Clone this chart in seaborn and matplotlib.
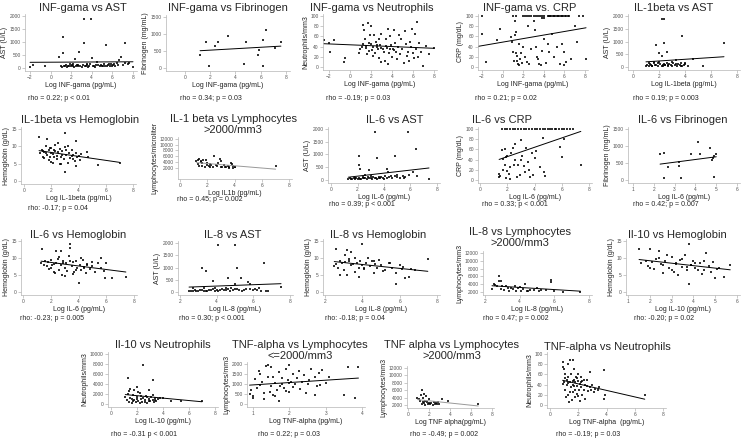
import pandas as pd
import seaborn as sns
import numpy as np
import matplotlib.pyplot as plt

sns.set_style('ticks')
plt.rcParams['font.family'] = ['Liberation Sans', 'DejaVu Sans']

W, H = 744, 442

# INF-gama vs AST
p1_x = [-2.0, -1.7, -0.5, 0.8, 1.0, 1.1, 1.2, 1.2, 1.3, 1.4,
        1.5, 1.6, 1.8, 1.9, 2.0, 2.1, 2.2, 2.3, 2.4, 2.5,
        2.6, 2.7, 2.8, 2.9, 3.0, 3.1, 3.2, 3.2, 3.3, 3.4,
        3.5, 3.6, 3.7, 3.8, 3.9, 4.0, 4.1, 4.2, 4.3, 4.5,
        4.6, 4.8, 5.0, 5.1, 5.2, 5.4, 5.5, 5.6, 5.8, 5.9,
        6.0, 6.1, 6.2, 6.3, 6.4, 6.6, 6.8, 7.0, 7.2, 7.2,
        7.5, 8.0, 1.7, 2.2, 2.7, 3.5, 4.4, 4.9, 5.3, 5.7,
        6.5, 7.6]
p1_y = [30, 120, 60, 430, 80, 50, 1200, 560, 90, 60,
        120, 40, 70, 150, 60, 100, 80, 40, 350, 60,
        110, 70, 600, 90, 50, 130, 1900, 950, 60, 80,
        100, 40, 70, 150, 1900, 380, 60, 90, 50, 230,
        100, 70, 60, 90, 140, 870, 60, 110, 80, 160,
        60, 100, 140, 60, 200, 320, 430, 100, 960, 200,
        150, 50, 90, 140, 120, 160, 110, 130, 70, 150,
        120, 180]

# INF-gama vs Fibrinogen
p2_x = [1.2, 1.7, 1.9, 2.4, 2.6, 3.4, 4.7, 4.8, 5.8, 5.9, 6.2, 6.2, 6.4, 7.1, 7.6]
p2_y = [390, 760, 60, 640, 770, 930, 120, 760, 370, 540, 810, 70, 1110, 580, 770]

# INF-gama vs Neutrophils
p3_x = [-2.5, -2.0, -1.9, -1.5, -0.6, -0.5, 0.9, 1.0, 1.1, 1.2,
        1.3, 1.4, 1.5, 1.6, 1.7, 1.8, 2.0, 2.0, 2.1, 2.2,
        2.3, 2.4, 2.5, 2.6, 2.7, 2.8, 2.9, 3.0, 3.0, 3.1,
        3.2, 3.3, 3.4, 3.5, 3.6, 3.7, 3.8, 3.9, 4.0, 4.1,
        4.2, 4.3, 4.4, 4.5, 4.6, 4.7, 4.8, 4.9, 5.0, 5.1,
        5.2, 5.3, 5.4, 5.5, 5.6, 5.7, 5.8, 5.9, 6.0, 6.1,
        6.2, 6.3, 6.4, 6.5, 6.6, 6.8, 7.0, 7.2, 7.5, 8.0,
        1.2, 1.5, 1.8, 2.2, 2.6, 3.0, 3.4, 3.8, 4.2, 2.8,
        1.9, 3.6]
p3_y = [52, 47, 30, 52, 10, 17, 28, 35, 40, 82,
        72, 55, 38, 25, 87, 32, 45, 80, 34, 22,
        62, 28, 50, 40, 35, 18, 44, 10, 65, 36,
        30, 12, 55, 38, 5, 27, 60, 44, 20, 35,
        72, 48, 30, 15, 40, 63, 25, 55, 35, 8,
        70, 45, 22, 30, 12, 50, 40, 75, 28, 18,
        65, 35, 88, 20, 48, 30, 2, 42, 25, 38,
        45, 42, 48, 40, 44, 38, 42, 36, 33, 55,
        62, 75]

# INF-gama vs CRP
p4_x = [-2.5, -2.0, -2.0, -1.6, -0.5, -0.3, 0.8, 0.9, 1.0, 1.2,
        1.3, 1.2, 1.3, 1.4, 1.5, 1.6, 1.7, 1.8, 2.0, 2.2,
        2.4, 2.5, 2.6, 2.8, 3.0, 3.1, 3.2, 3.3, 3.4, 3.5,
        3.7, 3.8, 4.0, 4.2, 4.4, 4.5, 4.8, 5.0, 5.3, 5.6,
        5.8, 6.0, 6.2, 6.6, 7.0, 7.2, 8.1, 6.0, 1.0, 1.3,
        2.0, 2.2, 2.4, 2.6, 2.8, 3.0, 3.2, 3.4, 3.6, 3.8,
        4.0, 4.5, 4.7, 4.9, 5.1, 5.3, 5.5, 5.7, 5.9, 6.1,
        6.3, 7.4, 7.8, 3.8, 4.0, 4.4, 4.6, 5.0, 5.4, 5.8,
        6.2, 6.4, 1.1, 1.6, 1.9, 1.4]
p4_y = [8, 100, 65, 9, 52, 74, 58, 50, 30, 62,
        68, 90, 28, 12, 5, 46, 15, 28, 40, 20,
        10, 80, 5, 35, 90, 72, 40, 20, 15, 5,
        3, 32, 55, 8, 45, 30, 65, 20, 40, 5,
        45, 30, 10, 15, 80, 50, 16, 3, 100, 100,
        100, 100, 100, 100, 100, 100, 100, 100, 100, 100,
        100, 100, 100, 100, 100, 100, 100, 100, 100, 100,
        100, 100, 100, 96, 97, 100, 100, 100, 100, 100,
        100, 100, 12, 3, 8, 22]

# IL-1beta vs AST
p5_x = [2.2, 2.4, 3.8, 2.4, 7.0, 1.8, 2.0, 2.2, 2.6, 3.3,
        4.6, 1.6, 5.4, 3.0, 4.0, 1.0, 1.1, 1.2, 1.3, 1.4,
        1.5, 1.6, 1.7, 1.8, 1.9, 2.0, 2.1, 2.2, 2.3, 2.4,
        2.5, 2.6, 2.7, 2.8, 2.9, 3.0, 3.1, 3.2, 3.4, 3.5,
        3.6, 3.7, 3.8, 3.9, 4.0, 4.2, 1.5, 1.9, 2.3, 2.7,
        3.3, 3.7, 1.2, 2.5]
p5_y = [1900, 1900, 1200, 960, 960, 870, 560, 430, 580, 260,
        300, 200, 40, 200, 150, 60, 80, 40, 120, 90,
        50, 140, 70, 100, 60, 180, 110, 50, 90, 130,
        70, 160, 40, 120, 80, 60, 150, 90, 50, 110,
        70, 140, 60, 100, 120, 50, 30, 160, 60, 90,
        130, 40, 150, 100]

# IL-1beta vs Hemoglobin
p6_x = [1.1, 1.7, 3.0, 3.0, 5.4, 7.0, 3.8, 4.6, 3.8, 2.5,
        4.7, 1.2, 1.3, 1.4, 1.5, 1.5, 1.6, 1.7, 1.8, 1.8,
        1.9, 2.0, 2.0, 2.1, 2.2, 2.2, 2.3, 2.4, 2.5, 2.6,
        2.6, 2.7, 2.8, 2.9, 3.0, 3.1, 3.2, 3.3, 3.4, 3.5,
        3.6, 3.7, 3.8, 3.9, 4.0, 4.1, 4.2, 1.6, 2.0, 2.4,
        2.8, 3.2, 3.6, 1.9, 2.3, 2.7, 3.1, 3.5, 1.4, 2.1]
p6_y = [12.6, 12.2, 14.0, 2.5, 4.5, 5.3, 11.5, 8.5, 4.4, 11.0,
        7.0, 8.0, 9.0, 7.0, 8.5, 6.5, 10.0, 7.5, 8.8, 6.0,
        9.5, 8.0, 5.5, 7.8, 9.0, 6.8, 10.5, 7.2, 8.4, 5.0,
        9.2, 7.0, 8.6, 6.2, 9.8, 7.4, 5.2, 8.2, 6.6, 9.0,
        7.6, 5.8, 8.0, 6.8, 7.2, 6.0, 7.8, 8.2, 9.4, 6.4,
        7.6, 10.2, 6.2, 7.0, 8.6, 4.8, 9.0, 7.2, 8.6, 5.2]

# IL-1 beta vs Lymphocytes >2000
p7_x = [1.2, 1.4, 1.4, 1.5, 1.6, 1.7, 1.9, 2.0, 2.1, 2.2,
        2.2, 2.4, 2.5, 2.6, 2.7, 2.8, 2.9, 3.0, 3.0, 3.1,
        3.2, 3.4, 3.6, 3.7, 3.8, 3.9, 4.0, 7.0, 1.3, 2.3,
        3.3, 1.8, 2.0, 3.5, 1.3, 1.5, 1.6, 3.6, 3.9, 4.0]
p7_y = [4200, 5000, 2700, 3900, 2500, 4800, 4500, 3500, 2600, 3200,
        2200, 2300, 6200, 3000, 2400, 3700, 5000, 4400, 2200, 2100,
        2800, 2300, 2200, 3700, 3200, 2500, 2100, 2400, 3300, 2900,
        2100, 2100, 2800, 2600, 4600, 4300, 3600, 2000, 2000, 2300]

# IL-6 vs AST
p8_x = [3.3, 5.8, 6.4, 2.1, 4.8, 3.5, 2.1, 2.2, 2.9, 4.2,
        4.3, 6.2, 5.0, 7.4, 6.5, 2.6, 1.3, 1.4, 1.5, 1.6,
        1.7, 1.8, 1.9, 2.0, 2.1, 2.2, 2.3, 2.4, 2.5, 2.6,
        2.7, 2.8, 2.9, 3.0, 3.1, 3.2, 3.3, 3.4, 3.5, 3.6,
        3.7, 3.8, 3.9, 4.0, 4.1, 4.2, 4.4, 4.6, 4.8, 5.0,
        5.2, 5.4, 5.6, 5.9, 1.8, 2.4, 3.0, 3.6, 4.5, 5.5]
p8_y = [1900, 1900, 1200, 960, 960, 870, 600, 430, 400, 430,
        330, 320, 200, 50, 150, 180, 40, 60, 30, 50,
        70, 40, 60, 30, 80, 50, 40, 90, 60, 70,
        40, 110, 60, 80, 50, 120, 70, 90, 40, 100,
        60, 130, 80, 50, 140, 90, 110, 70, 160, 120,
        80, 150, 100, 180, 80, 100, 140, 60, 170, 90]

# IL-6 vs CRP
p9_x = [1.4, 1.4, 1.6, 1.7, 1.8, 1.9, 2.0, 2.0, 2.1, 2.2,
        2.3, 2.4, 2.5, 2.6, 2.7, 2.8, 2.9, 3.0, 3.0, 3.1,
        3.2, 3.3, 3.4, 3.5, 3.6, 3.8, 3.9, 4.0, 4.1, 4.4,
        4.6, 4.7, 4.8, 5.9, 6.0, 6.2, 7.4, 2.2, 2.6, 1.8,
        3.7, 1.6, 1.8, 2.0, 2.2, 2.4, 2.6, 2.8, 3.0, 3.2,
        3.4, 3.6, 3.8, 4.0, 4.2, 4.4, 4.6, 4.8, 5.0, 5.3,
        5.6, 6.0, 6.4, 6.8, 5.1, 5.5, 5.8, 6.2, 6.6, 1.5,
        1.7, 1.9]
p9_y = [12, 5, 58, 42, 60, 45, 48, 18, 12, 25,
        52, 62, 30, 70, 5, 30, 10, 78, 40, 48,
        28, 15, 62, 35, 20, 52, 10, 43, 57, 25,
        82, 15, 8, 65, 45, 80, 30, 2, 40, 30,
        5, 100, 100, 100, 100, 100, 100, 100, 100, 100,
        100, 100, 100, 100, 100, 100, 100, 100, 100, 100,
        100, 100, 100, 100, 100, 100, 100, 100, 100, 8,
        20, 3]

# IL-6 vs Fibrinogen
p10_x = [2.3, 2.5, 2.5, 2.7, 3.2, 3.2, 3.3, 3.8, 4.1, 4.2, 4.7, 4.8, 4.85, 4.9, 4.9, 5.0]
p10_y = [760, 800, 70, 380, 540, 400, 60, 770, 1110, 760, 930, 600, 650, 100, 700, 770]

# IL-6 vs Hemoglobin
p11_x = [1.4, 2.4, 2.7, 3.4, 3.4, 4.0, 6.4, 7.4, 5.6, 5.9,
         6.0, 1.3, 1.5, 1.6, 1.7, 1.8, 1.9, 2.0, 2.1, 2.2,
         2.3, 2.4, 2.5, 2.6, 2.7, 2.8, 2.9, 3.0, 3.1, 3.2,
         3.3, 3.5, 3.6, 3.7, 3.8, 3.9, 4.1, 4.2, 4.3, 4.4,
         4.5, 4.6, 4.8, 5.0, 5.2, 5.4, 5.6, 5.8, 2.0, 2.6,
         3.0, 3.4, 3.8, 4.2, 4.6, 5.0, 2.2, 2.9, 3.6, 4.4]
p11_y = [12.7, 12.0, 12.0, 14.0, 13.0, 2.5, 4.0, 4.5, 10.0, 4.2,
         8.5, 8.6, 8.0, 9.2, 7.5, 8.8, 6.8, 9.5, 7.8, 8.2,
         5.5, 8.6, 9.8, 6.5, 8.0, 5.0, 9.0, 7.2, 8.4, 6.2,
         10.5, 7.6, 8.8, 5.8, 9.2, 7.0, 8.0, 6.4, 9.4, 7.2,
         5.6, 8.2, 6.8, 7.6, 5.8, 8.6, 7.0, 6.2, 7.0, 10.2,
         4.8, 9.0, 6.6, 10.0, 7.8, 8.8, 6.0, 8.4, 5.4, 7.4]

# IL-8 vs AST
p12_x = [3.2, 3.4, 4.1, 5.0, 5.1, 6.6, 3.8, 4.6, 5.3, 5.0,
         5.7, 5.8, 6.3, 7.5, 6.8, 2.5, 2.6, 2.7, 2.8, 2.9,
         3.0, 3.1, 3.2, 3.3, 3.4, 3.5, 3.6, 3.7, 3.8, 3.9,
         4.0, 4.1, 4.2, 4.3, 4.4, 4.5, 4.6, 4.7, 4.8, 4.9,
         5.0, 5.2, 5.4, 5.6, 5.8, 6.0, 6.2, 6.4, 6.7, 2.7,
         3.3, 3.9, 4.5, 5.1, 5.5, 6.1]
p12_y = [960, 870, 1900, 1900, 960, 1200, 430, 560, 580, 320,
         400, 330, 180, 190, 50, 40, 60, 30, 80, 50,
         40, 70, 100, 50, 60, 40, 90, 70, 120, 50,
         80, 60, 100, 140, 70, 90, 110, 60, 150, 80,
         120, 90, 60, 110, 130, 70, 90, 50, 60, 170,
         150, 160, 180, 130, 100, 120]

# IL-8 vs Hemoglobin
p13_x = [2.6, 3.2, 3.4, 4.0, 3.1, 5.8, 6.3, 6.5, 7.5, 4.3,
         3.8, 2.5, 2.6, 2.7, 2.8, 2.9, 3.0, 3.1, 3.2, 3.3,
         3.4, 3.5, 3.6, 3.7, 3.8, 3.9, 4.0, 4.1, 4.2, 4.4,
         4.5, 4.6, 4.7, 4.8, 4.9, 5.0, 5.2, 5.4, 5.6, 5.8,
         6.0, 6.2, 6.6, 6.8, 2.8, 3.3, 3.6, 4.1, 4.6, 5.1,
         5.5, 6.1]
p13_y = [12.7, 12.5, 11.8, 14.0, 11.0, 2.4, 4.2, 4.5, 9.6, 10.0,
         4.5, 7.5, 8.2, 7.0, 9.0, 8.4, 6.5, 8.8, 5.0, 9.6,
         7.8, 8.2, 6.0, 8.6, 7.2, 9.2, 8.0, 6.8, 8.4, 7.6,
         9.0, 5.6, 8.2, 7.0, 9.4, 7.8, 6.4, 8.6, 7.2, 5.5,
         8.0, 7.4, 6.8, 6.6, 5.0, 9.0, 10.0, 7.0, 9.2, 6.2,
         8.4, 6.8]

# IL-8 vs Lymphocytes >2000
p14_x = [2.4, 2.5, 2.6, 2.7, 2.8, 2.8, 2.9, 2.9, 3.0, 3.1,
         3.2, 3.3, 3.4, 3.5, 3.6, 3.7, 3.8, 4.0, 4.2, 4.3,
         4.4, 4.5, 4.6, 4.8, 5.0, 5.1, 5.2, 5.8, 5.8, 6.0,
         6.5, 7.5, 4.1, 3.9, 5.5]
p14_y = [2800, 4000, 3700, 3500, 6200, 4800, 4700, 2700, 3500, 2400,
         3600, 2900, 2300, 3100, 2800, 3500, 2300, 3300, 2800, 4100,
         2300, 2200, 2600, 2400, 3000, 2200, 2400, 5000, 4500, 2300,
         2100, 2100, 2200, 2900, 2600]

# Il-10 vs Hemoglobin
p15_x = [1.5, 2.0, 2.4, 2.8, 3.8, 3.8, 4.6, 5.0, 5.4, 5.7,
         1.6, 1.8, 1.9, 2.1, 2.2, 2.3, 2.5, 2.6, 2.7, 2.9,
         3.0, 3.1, 3.2, 3.3, 3.4, 3.5, 3.6, 3.7, 3.9, 4.0,
         4.1, 4.2, 4.3, 4.4, 4.5, 4.7, 4.8, 4.9, 5.1, 5.2,
         2.0, 2.6, 3.0, 3.5, 3.9, 4.1, 4.5, 3.7, 3.2, 2.4]
p15_y = [12.7, 12.6, 12.0, 11.0, 14.0, 2.4, 11.5, 4.2, 4.5, 8.0,
         8.4, 9.0, 7.6, 8.8, 6.8, 9.6, 8.2, 5.6, 9.2, 7.0,
         10.2, 6.0, 8.6, 5.0, 9.4, 7.4, 10.8, 6.4, 8.0, 9.0,
         7.2, 6.6, 8.4, 5.4, 9.2, 7.6, 5.8, 8.8, 6.8, 7.0,
         7.2, 8.0, 6.4, 9.8, 7.8, 8.6, 6.6, 7.4, 8.2, 10.0]

# Il-10 vs Neutrophils
p16_x = [2.5, 1.3, 3.2, 2.0, 1.5, 1.8, 2.9, 4.0, 5.4, 7.0,
         4.6, 1.1, 1.2, 1.3, 1.4, 1.5, 1.6, 1.7, 1.8, 1.9,
         2.0, 2.1, 2.2, 2.3, 2.4, 2.5, 2.6, 2.7, 2.8, 2.9,
         3.0, 3.1, 3.2, 3.3, 3.4, 3.5, 3.6, 3.8, 1.4, 1.7,
         2.0, 2.3, 2.6, 2.9, 3.2, 1.6, 2.2, 2.8, 3.4, 2.1]
p16_y = [7900, 5200, 4800, 3500, 3000, 2900, 2800, 1200, 600, 600,
         700, 1400, 800, 2000, 500, 1200, 300, 1800, 900, 400,
         1500, 700, 2200, 1000, 500, 1300, 800, 1700, 300, 1100,
         600, 1400, 900, 500, 1200, 700, 1000, 1300, 2600, 600,
         1000, 1600, 400, 700, 1800, 1100, 300, 1500, 900, 2400]

# TNF-alpha vs Lymphocytes <=2000
p17_x = [0.9, 0.95, 1.0, 1.0, 1.05, 1.1, 1.15, 1.2, 1.25, 1.3,
         1.35, 1.4, 1.4, 1.45, 1.5, 1.5, 1.55, 1.6, 1.6, 1.65,
         1.7, 1.7, 1.75, 1.8, 1.8, 1.85, 1.9, 1.95, 2.0, 2.0,
         2.05, 2.1, 2.1, 2.15, 2.2, 2.25, 2.3, 2.35, 2.4, 2.5,
         2.55, 2.6, 2.7, 2.7, 2.75, 2.8, 2.85, 2.9, 3.0, 3.1,
         3.5, 3.6, 3.8, 3.9, 1.3, 1.55, 2.0, 1.2, 1.9, 2.45]
p17_y = [500, 700, 420, 300, 1250, 800, 1650, 1500, 1100, 550,
         1900, 1950, 1350, 600, 1850, 900, 1350, 1050, 400, 700,
         1600, 150, 900, 1000, 1300, 800, 1750, 1200, 1950, 600,
         1100, 1500, 850, 1000, 1300, 1650, 750, 1100, 1450, 1000,
         1200, 1750, 450, 1350, 900, 1550, 950, 1700, 1050, 1350,
         450, 1850, 300, 1850, 250, 450, 1050, 950, 650, 550]

# TNF alpha vs Lymphocytes >2000
p18_x = [0.9, 1.0, 1.1, 1.2, 1.3, 1.3, 1.4, 1.5, 1.5, 1.6,
         1.6, 1.7, 1.8, 1.9, 2.0, 2.1, 2.2, 2.4, 2.5, 2.6,
         2.8, 2.9, 3.0, 3.2, 3.8, 6.7, 1.4, 2.0, 2.7]
p18_y = [4000, 3500, 3000, 4700, 6100, 2300, 3800, 4900, 2600, 3200,
         2100, 4500, 2700, 2200, 3500, 2200, 2600, 2100, 2900, 2300,
         2400, 2900, 2200, 3600, 3100, 2400, 2800, 2500, 2600]

# TNF-alpha vs Neutrophils
p19_x = [0.9, 0.95, 1.0, 1.0, 1.1, 1.1, 1.15, 1.2, 1.25, 1.3,
         1.3, 1.35, 1.4, 1.45, 1.5, 1.5, 1.55, 1.6, 1.6, 1.65,
         1.7, 1.7, 1.75, 1.8, 1.8, 1.85, 1.9, 1.95, 2.0, 2.0,
         2.05, 2.1, 2.1, 2.2, 2.2, 2.3, 2.3, 2.4, 2.5, 2.5,
         2.6, 2.7, 2.8, 2.8, 2.9, 3.0, 3.1, 3.2, 3.4, 3.5,
         3.8, 3.8, 3.9, 6.7, 1.2, 1.4, 1.6, 1.9, 2.2, 2.4,
         2.6, 1.1, 1.3, 1.7, 2.0, 0.95]
p19_y = [75, 85, 70, 45, 60, 30, 15, 40, 80, 55,
         20, 5, 88, 45, 35, 60, 10, 88, 40, 25,
         50, 70, 30, 45, 15, 55, 38, 22, 48, 60,
         30, 8, 42, 55, 35, 20, 47, 30, 40, 12,
         50, 28, 65, 35, 30, 40, 25, 32, 30, 35,
         68, 12, 20, 19, 50, 25, 48, 52, 45, 50,
         38, 52, 44, 38, 18, 42]

titles = ['INF-gama vs AST', 'INF-gama vs Fibrinogen', 'INF-gama vs Neutrophils', 'INF-gama vs. CRP', 'IL-1beta vs AST',
          'IL-1beta vs Hemoglobin', 'IL-1 beta vs Lymphocytes\n>2000/mm3', 'IL-6 vs AST', 'IL-6 vs CRP', 'IL-6 vs Fibrinogen',
          'IL-6 vs Hemoglobin', 'IL-8 vs AST', 'IL-8 vs Hemoglobin', 'IL-8 vs Lymphocytes\n>2000/mm3', 'Il-10 vs Hemoglobin',
          'Il-10 vs Neutrophils', 'TNF-alpha vs Lymphocytes\n<=2000/mm3', 'TNF alpha vs Lymphocytes\n>2000/mm3', 'TNF-alpha vs Neutrophils']
xlabels = ['Log INF-gama (pg/mL)'] * 4 + ['Log IL-1beta (pg/mL)', 'Log IL-1beta (pg/mL)', 'Log IL1b (pg/mL)'] + \
          ['Log IL-6 (pg/mL)'] * 4 + ['Log IL-8 (pg/mL)'] * 3 + ['Log IL-10 (pg/mL)'] * 2 + \
          ['Log TNF-alpha (pg/mL)', 'Log TNF alpha(pg/mL)', 'Log TNF-alpha  (pg/mL)']
ylabels = ['AST (U/L)', 'Fibrinogen (mg/mL)', 'Neutrophils/mm3', 'CRP (mg/dL)', 'AST (U/L)',
           'Hemoglobin (g/dL)', 'Lymphocytes/microliter', 'AST (U/L)', 'CRP (mg/dL)', 'Fibrinogen (mg/mL)',
           'Hemoglobin (g/dL)', 'AST (U/L)', 'Hemoglobin (g/dL)', 'Lymphocytes/mm3', 'Hemoglobin (g/dL)',
           'Neutrophils/mm3', 'Lymphocytes/mm3', 'Lymphocytes/mm3', 'Neutrophils/mm3']
rho_text = ['rho = 0.22; p < 0.01', 'rho = 0.34; p = 0.03', 'rho = -0.19; p = 0.03', 'rho = 0.21; p = 0.02', 'rho = 0.19; p = 0.003',
            'rho: -0.17; p = 0.04', 'rho = 0.45; p = 0.002', 'rho = 0.39; p < 0.001', 'rho = 0.33; p < 0.001', 'rho = 0.42; p = 0.007',
            'rho: -0.23; p = 0.005', 'rho = 0.30; p < 0.001', 'rho: -0.18; p = 0.04', 'rho = 0.47; p = 0.002', 'rho: -0.20; p = 0.02',
            'rho = -0.31 p < 0.001', 'rho = 0.22; p = 0.03', 'rho = -0.49; p = 0.002', 'rho = -0.19; p = 0.03']

xs = [p1_x, p2_x, p3_x, p4_x, p5_x, p6_x, p7_x, p8_x, p9_x, p10_x,
      p11_x, p12_x, p13_x, p14_x, p15_x, p16_x, p17_x, p18_x, p19_x]
ys = [p1_y, p2_y, p3_y, p4_y, p5_y, p6_y, p7_y, p8_y, p9_y, p10_y,
      p11_y, p12_y, p13_y, p14_y, p15_y, p16_y, p17_y, p18_y, p19_y]

# layout (pixels): axes box, limits, ticks, title centre, rho text position
ast_t, crp_t, hb_t = range(0, 2001, 500), range(0, 101, 20), range(0, 16, 5)
ly_t, x08 = range(2000, 12001, 2000), range(0, 9, 2)
layout = [
    ((25, 14, 137, 71), (-2.49, 8.39), (-115, 2077), range(-2, 9, 2), ast_t, (83, 8), (28, 98)),
    ((166, 15, 290, 71), (-1.5, 8.32), (-88, 1559), x08, range(0, 1501, 500), (228, 8), (180, 98)),
    ((323, 14, 437, 70), (-2.57, 8.29), (-5.9, 104), range(-2, 9, 2), crp_t, (372, 8), (326, 98)),
    ((478, 14, 588, 70), (-2.39, 8.29), (-5.9, 104), range(-2, 9, 2), crp_t, (530, 8), (475, 98)),
    ((628, 14, 740, 70), (-0.38, 8.23), (-115, 2077), x08, ast_t, (674, 8), (633, 98)),
    ((21, 127, 136, 184), (-0.22, 8.2), (-0.9, 15.6), x08, hb_t, (80, 120), (28, 208)),
    ((178, 137, 292, 179), (-0.15, 8.2), (-2000, 12700), x08, ly_t, (233, 124.5), (177, 200)),
    ((328, 127, 440, 183), (-0.23, 8.23), (-118, 2078), x08, ast_t, (395, 120), (329, 205)),
    ((478, 127, 592, 183), (-0.15, 8.22), (-5.9, 104), x08, crp_t, (502, 120), (482, 205)),
    ((628, 127, 740, 183), (0.76, 6.14), (-90, 1560), range(1, 7), range(0, 1501, 500), (683, 120), (633, 205)),
    ((21, 239, 137, 295), (-0.14, 8.2), (-0.9, 15.6), x08, hb_t, (78, 235), (20, 318)),
    ((178, 241, 293, 295), (1.9, 8.15), (-120, 2080), range(2, 9, 2), ast_t, (233, 235), (179, 318)),
    ((323, 239, 440, 295), (1.9, 8.15), (-0.9, 15.6), range(2, 9, 2), hb_t, (378, 235), (325, 318)),
    ((483, 251, 592, 295), (1.88, 8.17), (1230, 12500), range(2, 9, 2), ly_t, (520, 237.5), (483, 318)),
    ((626, 239, 740, 295), (0.9, 6.15), (-0.9, 15.6), range(1, 7), hb_t, (677, 235), (634, 318)),
    ((108, 352, 218, 407), (-0.23, 8.23), (-600, 10400), x08, range(0, 10001, 2000), (163, 345), (111, 434)),
    ((247, 362, 365, 407), (0.83, 4.08), (-150, 2100), range(1, 5), range(0, 2001, 500), (300, 350.5), (258, 434)),
    ((407, 366, 494, 408), (-0.1, 8.2), (1200, 12500), x08, ly_t, (452, 350.5), (410, 434)),
    ((547, 352, 666, 408), (-0.2, 8.2), (-5.9, 104), x08, crp_t, (607, 347), (556, 434)),
]
grey_line = {6, 17}

fig = plt.figure(figsize=(W / 100, H / 100), dpi=100)

for i, (box, xlim, ylim, xt, yt, tpos, rpos) in enumerate(layout):
    x0, y0, x1, y1 = box
    ax = fig.add_axes([x0 / W, 1 - y1 / H, (x1 - x0) / W, (y1 - y0) / H])
    df = pd.DataFrame({'x': xs[i], 'y': ys[i]})
    sns.regplot(data=df, x='x', y='y', ax=ax, ci=None, marker='s', color='black',
                scatter_kws={'s': 4.5, 'linewidths': 0},
                line_kws={'color': '#999999' if i in grey_line else 'black', 'lw': 0.7})
    ax.set_xlim(xlim)
    ax.set_ylim(ylim)
    ax.set_xticks(list(xt))
    ax.set_yticks(list(yt))
    ax.set_xlabel(xlabels[i], fontsize=5, labelpad=1, color='#222222')
    ax.set_ylabel(ylabels[i], fontsize=5, labelpad=1, color='#222222')
    sns.despine(ax=ax)
    for s in ['left', 'bottom']:
        ax.spines[s].set_color('#b5b5b5')
        ax.spines[s].set_linewidth(0.5)
    ax.tick_params(length=2, width=0.5, color='#b5b5b5', labelsize=3.5, pad=1, labelcolor='#555555')
    fig.text(tpos[0] / W, 1 - tpos[1] / H, titles[i], ha='center', va='center',
             fontsize=8, linespacing=1.1)
    fig.text(rpos[0] / W, 1 - rpos[1] / H, rho_text[i], ha='left', va='center', fontsize=5)

fig.savefig('out.png', dpi=100, facecolor='white')
